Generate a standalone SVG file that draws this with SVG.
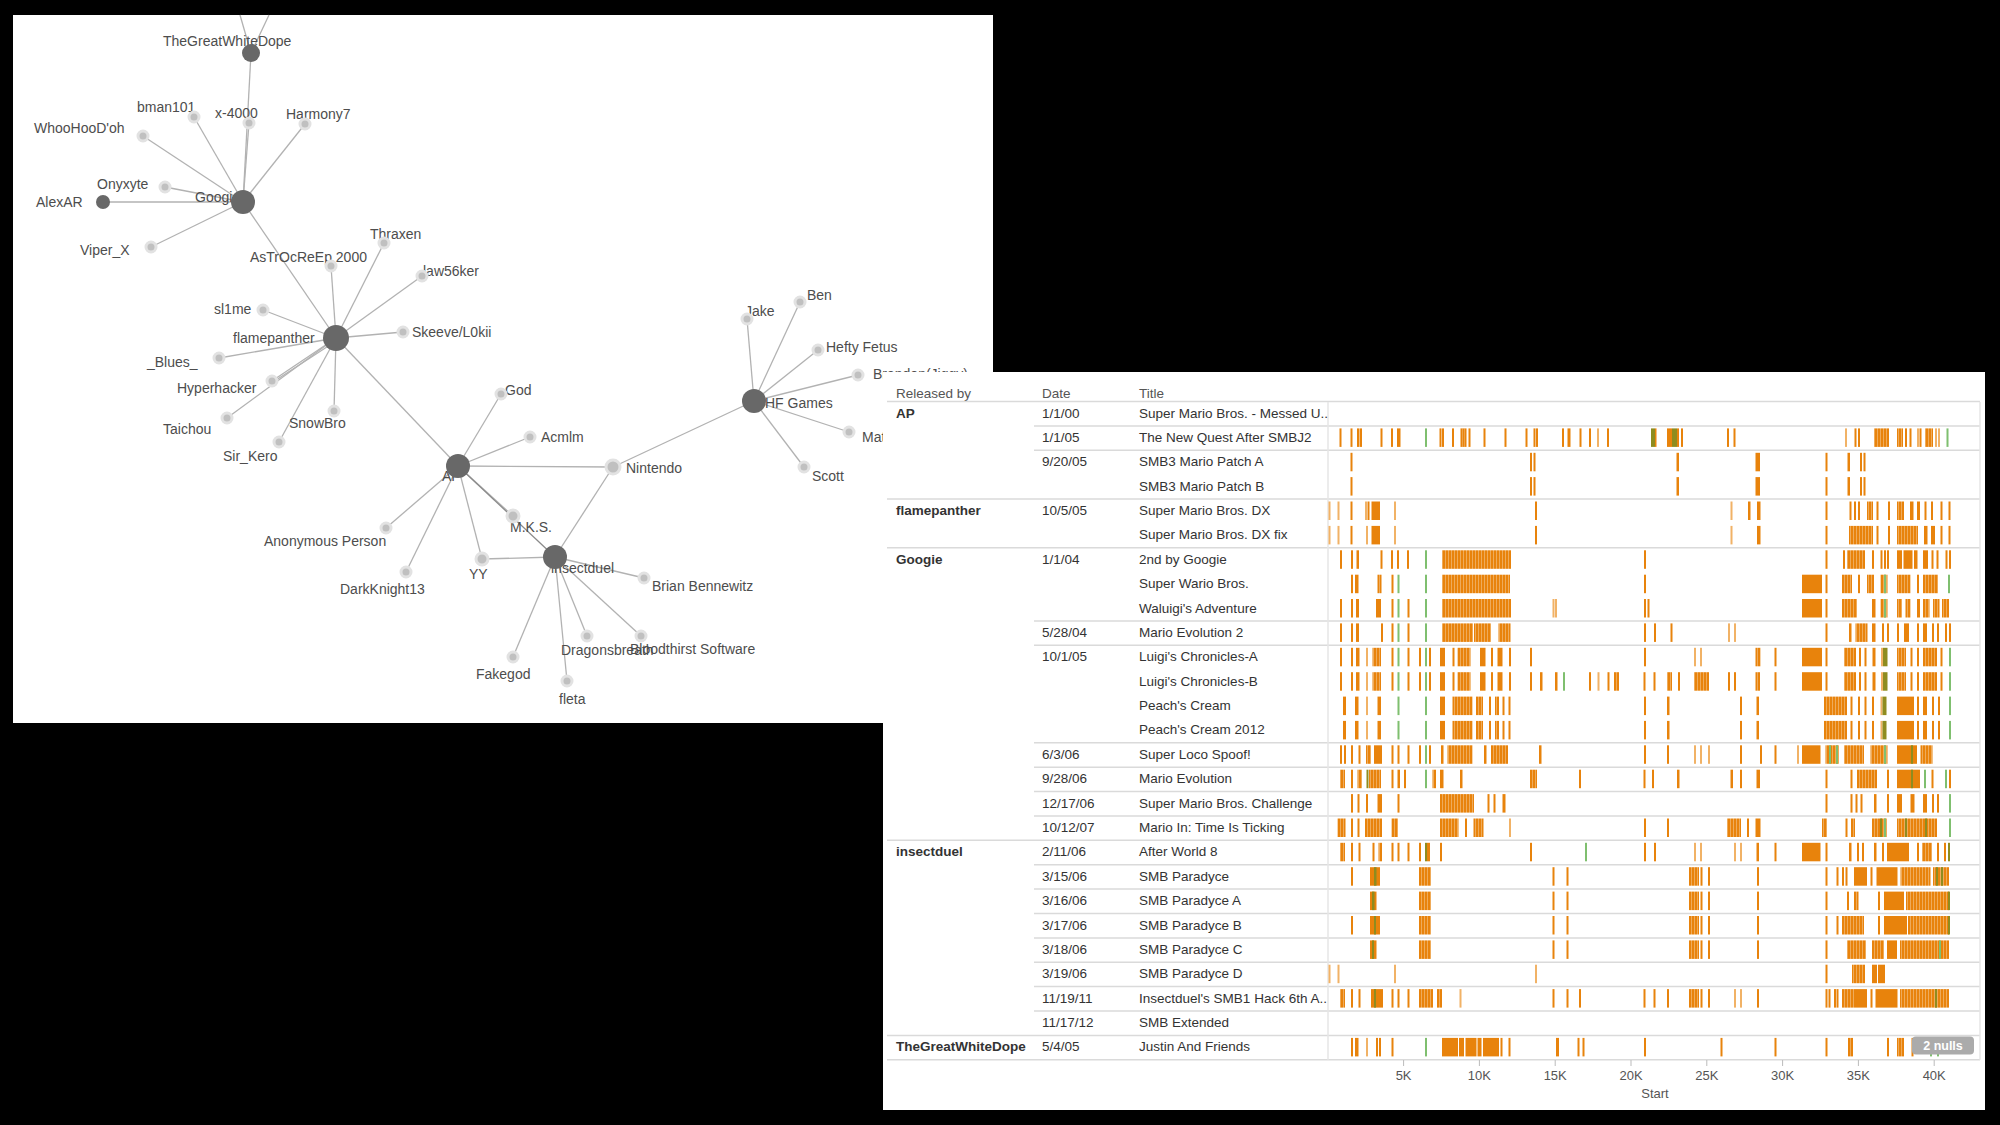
<svg xmlns="http://www.w3.org/2000/svg" width="2000" height="1125" viewBox="0 0 2000 1125">
<defs>
<style>
.lbl{font-family:"Liberation Sans",Arial,sans-serif;font-size:14px;fill:#4d4d4d}
.edge line{stroke:#b2b2b2;stroke-width:1.3}
.hub{fill:#686868}
.leaf{fill:#c0c0c0;stroke:#e2e2e2;stroke-width:3}
.t{font-family:"Liberation Sans",Arial,sans-serif;font-size:13.5px;fill:#333}
.th{font-family:"Liberation Sans",Arial,sans-serif;font-size:13.5px;fill:#555}
.tb{font-family:"Liberation Sans",Arial,sans-serif;font-size:13.5px;font-weight:bold;fill:#333}
.ax{font-family:"Liberation Sans",Arial,sans-serif;font-size:13px;fill:#555;text-anchor:middle}
.sep{stroke:#dadada;stroke-width:1.5}
.bars rect{y:0;height:18.5px;fill:#e8830c}
.bars rect.l{fill:#f1b266}
.bars rect.g{fill:#7fbf6f}
.bars rect.v{fill:#8e8c1f}
.bars rect.d{fill:url(#dn)}
</style>
<pattern id="dn" width="3" height="20" patternUnits="userSpaceOnUse"><rect width="3" height="20" fill="#f3bd7c"/><rect width="2.3" height="20" fill="#e8830c"/></pattern>
</defs>
<rect width="2000" height="1125" fill="#000"/>
<rect x="13" y="15" width="980" height="708" fill="#fff"/>

<g id="connectors" class="edge">
<line x1="251" y1="53" x2="240" y2="15"/>
<line x1="251" y1="53" x2="269" y2="15"/>
<line x1="251" y1="53" x2="243" y2="202"/>
<line x1="243" y1="202" x2="194" y2="117"/>
<line x1="243" y1="202" x2="249" y2="123"/>
<line x1="243" y1="202" x2="305" y2="124"/>
<line x1="243" y1="202" x2="143" y2="136"/>
<line x1="243" y1="202" x2="165" y2="187"/>
<line x1="243" y1="202" x2="103" y2="202"/>
<line x1="243" y1="202" x2="151" y2="247"/>
<line x1="243" y1="202" x2="336" y2="338"/>
<line x1="336" y1="338" x2="331" y2="266"/>
<line x1="336" y1="338" x2="384" y2="243"/>
<line x1="336" y1="338" x2="422" y2="276"/>
<line x1="336" y1="338" x2="263" y2="310"/>
<line x1="336" y1="338" x2="403" y2="332"/>
<line x1="336" y1="338" x2="219" y2="358"/>
<line x1="336" y1="338" x2="272" y2="381"/>
<line x1="333" y1="343" x2="270" y2="384"/>
<line x1="336" y1="338" x2="227" y2="418"/>
<line x1="336" y1="338" x2="334" y2="411"/>
<line x1="336" y1="338" x2="279" y2="442"/>
<line x1="336" y1="338" x2="458" y2="466"/>
<line x1="458" y1="466" x2="501" y2="394"/>
<line x1="458" y1="466" x2="530" y2="437"/>
<line x1="458" y1="466" x2="613" y2="467"/>
<line x1="458" y1="466" x2="513" y2="516"/>
<line x1="458" y1="466" x2="555" y2="557" style="stroke:#8a8a8a"/>
<line x1="458" y1="466" x2="386" y2="528"/>
<line x1="458" y1="466" x2="406" y2="572"/>
<line x1="458" y1="466" x2="482" y2="559"/>
<line x1="555" y1="557" x2="482" y2="559"/>
<line x1="555" y1="557" x2="613" y2="467"/>
<line x1="555" y1="557" x2="644" y2="578"/>
<line x1="555" y1="557" x2="513" y2="657"/>
<line x1="555" y1="557" x2="587" y2="636"/>
<line x1="555" y1="557" x2="641" y2="636"/>
<line x1="555" y1="557" x2="567" y2="681"/>
<line x1="613" y1="467" x2="754" y2="401"/>
<line x1="754" y1="401" x2="747" y2="319"/>
<line x1="754" y1="401" x2="800" y2="302"/>
<line x1="754" y1="401" x2="818" y2="350"/>
<line x1="754" y1="401" x2="858" y2="375"/>
<line x1="754" y1="401" x2="849" y2="432"/>
<line x1="754" y1="401" x2="804" y2="467"/>
</g>

<g id="labels">
<text class="lbl" x="163" y="46">TheGreatWhiteDope</text>
<text class="lbl" x="137" y="112">bman101</text>
<text class="lbl" x="215" y="118">x-4000</text>
<text class="lbl" x="286" y="119">Harmony7</text>
<text class="lbl" x="34" y="133">WhooHooD'oh</text>
<text class="lbl" x="97" y="189">Onyxyte</text>
<text class="lbl" x="36" y="207">AlexAR</text>
<text class="lbl" x="195" y="202">Googie</text>
<text class="lbl" x="80" y="255">Viper_X</text>
<text class="lbl" x="370" y="239">Thraxen</text>
<text class="lbl" x="250" y="262">AsTrOcReEp 2000</text>
<text class="lbl" x="423" y="276">law56ker</text>
<text class="lbl" x="214" y="314">sl1me</text>
<text class="lbl" x="233" y="343">flamepanther</text>
<text class="lbl" x="412" y="337">Skeeve/L0kii</text>
<text class="lbl" x="147" y="367">_Blues_</text>
<text class="lbl" x="177" y="393">Hyperhacker</text>
<text class="lbl" x="163" y="434">Taichou</text>
<text class="lbl" x="289" y="428">SnowBro</text>
<text class="lbl" x="223" y="461">Sir_Kero</text>
<text class="lbl" x="442" y="481">AP</text>
<text class="lbl" x="505" y="395">God</text>
<text class="lbl" x="541" y="442">Acmlm</text>
<text class="lbl" x="626" y="473">Nintendo</text>
<text class="lbl" x="510" y="532">M.K.S.</text>
<text class="lbl" x="264" y="546">Anonymous Person</text>
<text class="lbl" x="340" y="594">DarkKnight13</text>
<text class="lbl" x="469" y="579">YY</text>
<text class="lbl" x="551" y="573">insectduel</text>
<text class="lbl" x="652" y="591">Brian Bennewitz</text>
<text class="lbl" x="476" y="679">Fakegod</text>
<text class="lbl" x="561" y="655">Dragonsbreath</text>
<text class="lbl" x="630" y="654">Bloodthirst Software</text>
<text class="lbl" x="559" y="704">fleta</text>
<text class="lbl" x="765" y="408">HF Games</text>
<text class="lbl" x="745" y="316">Jake</text>
<text class="lbl" x="807" y="300">Ben</text>
<text class="lbl" x="826" y="352">Hefty Fetus</text>
<text class="lbl" x="873" y="379">Brandon(Jiggy)</text>
<text class="lbl" x="862" y="442">Matt</text>
<text class="lbl" x="812" y="481">Scott</text>
</g>

<g id="nodes">
<g id="n-tgwd"><circle class="hub" cx="251" cy="53" r="9"/></g>
<g id="n-googie"><circle class="hub" cx="243" cy="202" r="12"/></g>
<g id="n-alexar"><circle class="hub" cx="103" cy="202" r="7"/></g>
<g id="n-flamepanther"><circle class="hub" cx="336" cy="338" r="13"/></g>
<g id="n-ap"><circle class="hub" cx="458" cy="466" r="12"/></g>
<g id="n-insectduel"><circle class="hub" cx="555" cy="557" r="12"/></g>
<g id="n-hfgames"><circle class="hub" cx="754" cy="401" r="12"/></g>
<g id="n-nintendo"><circle class="leaf" cx="613" cy="467" r="7"/></g>
<g id="n-mks"><circle class="leaf" cx="513" cy="516" r="6"/></g>
<g id="n-yy"><circle class="leaf" cx="482" cy="559" r="6"/></g>
<g id="n-bman101"><circle class="leaf" cx="194" cy="117" r="5"/></g>
<g id="n-x4000"><circle class="leaf" cx="249" cy="123" r="5"/></g>
<g id="n-harmony7"><circle class="leaf" cx="305" cy="124" r="5"/></g>
<g id="n-whoohoo"><circle class="leaf" cx="143" cy="136" r="5"/></g>
<g id="n-onyxyte"><circle class="leaf" cx="165" cy="187" r="5"/></g>
<g id="n-viperx"><circle class="leaf" cx="151" cy="247" r="5"/></g>
<g id="n-thraxen"><circle class="leaf" cx="384" cy="243" r="5"/></g>
<g id="n-astr"><circle class="leaf" cx="331" cy="266" r="5"/></g>
<g id="n-law56ker"><circle class="leaf" cx="422" cy="276" r="5"/></g>
<g id="n-sl1me"><circle class="leaf" cx="263" cy="310" r="5"/></g>
<g id="n-skeeve"><circle class="leaf" cx="403" cy="332" r="5"/></g>
<g id="n-blues"><circle class="leaf" cx="219" cy="358" r="5"/></g>
<g id="n-hyperhacker"><circle class="leaf" cx="272" cy="381" r="5"/></g>
<g id="n-taichou"><circle class="leaf" cx="227" cy="418" r="5"/></g>
<g id="n-snowbro"><circle class="leaf" cx="334" cy="411" r="5"/></g>
<g id="n-sirkero"><circle class="leaf" cx="279" cy="442" r="5"/></g>
<g id="n-god"><circle class="leaf" cx="501" cy="394" r="5"/></g>
<g id="n-acmlm"><circle class="leaf" cx="530" cy="437" r="5"/></g>
<g id="n-anon"><circle class="leaf" cx="386" cy="528" r="5"/></g>
<g id="n-darkknight"><circle class="leaf" cx="406" cy="572" r="5"/></g>
<g id="n-brian"><circle class="leaf" cx="644" cy="578" r="5"/></g>
<g id="n-fakegod"><circle class="leaf" cx="513" cy="657" r="5"/></g>
<g id="n-dragon"><circle class="leaf" cx="587" cy="636" r="5"/></g>
<g id="n-blood"><circle class="leaf" cx="641" cy="636" r="5"/></g>
<g id="n-fleta"><circle class="leaf" cx="567" cy="681" r="5"/></g>
<g id="n-jake"><circle class="leaf" cx="747" cy="319" r="5"/></g>
<g id="n-ben"><circle class="leaf" cx="800" cy="302" r="5"/></g>
<g id="n-hefty"><circle class="leaf" cx="818" cy="350" r="5"/></g>
<g id="n-brandon"><circle class="leaf" cx="858" cy="375" r="5"/></g>
<g id="n-mat"><circle class="leaf" cx="849" cy="432" r="5"/></g>
<g id="n-scott"><circle class="leaf" cx="804" cy="467" r="5"/></g>
</g>

<g id="table">
<rect x="883" y="372" width="1102" height="738" fill="#fff"/>
<text class="th" x="896" y="398">Released by</text>
<text class="th" x="1042" y="398">Date</text>
<text class="th" x="1139" y="398">Title</text>
<g class="sep">
<line x1="887" y1="401.5" x2="1980" y2="401.5"/>
<line x1="1034" y1="425.9" x2="1980" y2="425.9"/>
<line x1="1034" y1="450.3" x2="1980" y2="450.3"/>
<line x1="887" y1="499" x2="1980" y2="499"/>
<line x1="887" y1="547.8" x2="1980" y2="547.8"/>
<line x1="1034" y1="620.9" x2="1980" y2="620.9"/>
<line x1="1034" y1="645.3" x2="1980" y2="645.3"/>
<line x1="1034" y1="742.8" x2="1980" y2="742.8"/>
<line x1="1034" y1="767.2" x2="1980" y2="767.2"/>
<line x1="1034" y1="791.6" x2="1980" y2="791.6"/>
<line x1="1034" y1="816" x2="1980" y2="816"/>
<line x1="887" y1="840.3" x2="1980" y2="840.3"/>
<line x1="1034" y1="864.7" x2="1980" y2="864.7"/>
<line x1="1034" y1="889.1" x2="1980" y2="889.1"/>
<line x1="1034" y1="913.5" x2="1980" y2="913.5"/>
<line x1="1034" y1="937.9" x2="1980" y2="937.9"/>
<line x1="1034" y1="962.2" x2="1980" y2="962.2"/>
<line x1="1034" y1="986.6" x2="1980" y2="986.6"/>
<line x1="1034" y1="1011" x2="1980" y2="1011"/>
<line x1="887" y1="1035.4" x2="1980" y2="1035.4"/>
<line x1="887" y1="1059.8" x2="1980" y2="1059.8"/>
<line x1="1328" y1="402" x2="1328" y2="1059.8" style="stroke:#e6e6e6"/>
<line x1="1980" y1="402" x2="1980" y2="1059.8" style="stroke:#e6e6e6"/>
</g>
<text class="tb" x="896" y="417.5">AP</text>
<text class="tb" x="896" y="515">flamepanther</text>
<text class="tb" x="896" y="563.8">Googie</text>
<text class="tb" x="896" y="856.3">insectduel</text>
<text class="tb" x="896" y="1051.4">TheGreatWhiteDope</text>
<g class="t">
<text x="1042" y="417.5">1/1/00</text><text x="1139" y="417.5">Super Mario Bros. - Messed U..</text>
<text x="1042" y="441.9">1/1/05</text><text x="1139" y="441.9">The New Quest After SMBJ2</text>
<text x="1042" y="466.3">9/20/05</text><text x="1139" y="466.3">SMB3 Mario Patch A</text>
<text x="1139" y="490.6">SMB3 Mario Patch B</text>
<text x="1042" y="515">10/5/05</text><text x="1139" y="515">Super Mario Bros. DX</text>
<text x="1139" y="539.4">Super Mario Bros. DX fix</text>
<text x="1042" y="563.8">1/1/04</text><text x="1139" y="563.8">2nd by Googie</text>
<text x="1139" y="588.2">Super Wario Bros.</text>
<text x="1139" y="612.5">Waluigi's Adventure</text>
<text x="1042" y="636.9">5/28/04</text><text x="1139" y="636.9">Mario Evolution 2</text>
<text x="1042" y="661.3">10/1/05</text><text x="1139" y="661.3">Luigi's Chronicles-A</text>
<text x="1139" y="685.7">Luigi's Chronicles-B</text>
<text x="1139" y="710.1">Peach's Cream</text>
<text x="1139" y="734.4">Peach's Cream 2012</text>
<text x="1042" y="758.8">6/3/06</text><text x="1139" y="758.8">Super Loco Spoof!</text>
<text x="1042" y="783.2">9/28/06</text><text x="1139" y="783.2">Mario Evolution</text>
<text x="1042" y="807.6">12/17/06</text><text x="1139" y="807.6">Super Mario Bros. Challenge</text>
<text x="1042" y="832">10/12/07</text><text x="1139" y="832">Mario In: Time Is Ticking</text>
<text x="1042" y="856.3">2/11/06</text><text x="1139" y="856.3">After World 8</text>
<text x="1042" y="880.7">3/15/06</text><text x="1139" y="880.7">SMB Paradyce</text>
<text x="1042" y="905.1">3/16/06</text><text x="1139" y="905.1">SMB Paradyce A</text>
<text x="1042" y="929.5">3/17/06</text><text x="1139" y="929.5">SMB Paradyce B</text>
<text x="1042" y="953.9">3/18/06</text><text x="1139" y="953.9">SMB Paradyce C</text>
<text x="1042" y="978.2">3/19/06</text><text x="1139" y="978.2">SMB Paradyce D</text>
<text x="1042" y="1002.6">11/19/11</text><text x="1139" y="1002.6">Insectduel's SMB1 Hack 6th A..</text>
<text x="1042" y="1027">11/17/12</text><text x="1139" y="1027">SMB Extended</text>
<text x="1042" y="1051.4">5/4/05</text><text x="1139" y="1051.4">Justin And Friends</text>
</g>

<g class="bars" transform="translate(0,428.4)"><rect x="1339.5" width="2"/><rect x="1350.5" width="2"/><rect x="1357" width="2"/><rect x="1359.5" width="2.5"/><rect x="1380.5" width="2"/><rect x="1391" width="2"/><rect x="1397" width="3.5"/><rect class="g" x="1425" width="2"/><rect x="1439.5" width="2"/><rect x="1442" width="2"/><rect x="1452" width="2"/><rect x="1460.5" width="2"/><rect x="1462.5" width="2"/><rect x="1464.5" width="2"/><rect x="1468.5" width="2"/><rect x="1483.5" width="2"/><rect x="1504.5" width="2"/><rect x="1525.5" width="2"/><rect x="1533.5" width="2"/><rect x="1536" width="2"/><rect x="1562" width="2"/><rect x="1567.5" width="3"/><rect x="1579.5" width="2"/><rect x="1589" width="2"/><rect class="l" x="1597" width="2"/><rect x="1607" width="2"/><rect class="v" x="1651" width="4"/><rect x="1655" width="1.5"/><rect x="1667" width="5"/><rect class="v" x="1672" width="5"/><rect x="1677" width="2"/><rect x="1681" width="2"/><rect x="1727" width="2"/><rect x="1733.5" width="2"/><rect class="l" x="1845" width="2"/><rect x="1854.5" width="2"/><rect x="1858" width="2"/><rect class="d" x="1874" width="15"/><rect class="d" x="1897" width="6"/><rect x="1905" width="2"/><rect x="1909.5" width="2"/><rect class="l" x="1917" width="2"/><rect x="1919.5" width="2"/><rect class="d" x="1925" width="8"/><rect class="l" x="1935" width="2"/><rect class="l" x="1938" width="2"/><rect class="g" x="1946.5" width="2"/></g>

<g class="bars" transform="translate(0,452.8)"><rect x="1350.5" width="2"/><rect x="1530" width="2"/><rect x="1533.5" width="2"/><rect x="1676.5" width="2.5"/><rect x="1755.5" width="4.5"/><rect x="1825.5" width="2"/><rect x="1847.5" width="2.5"/><rect x="1860" width="2"/><rect x="1863.5" width="2"/></g>
<g class="bars" transform="translate(0,477.1)"><rect x="1350.5" width="2"/><rect x="1530" width="2"/><rect x="1533.5" width="2"/><rect x="1676.5" width="2.5"/><rect x="1755.5" width="4.5"/><rect x="1825.5" width="2"/><rect x="1847.5" width="2.5"/><rect x="1860" width="2"/><rect x="1863.5" width="2"/></g>

<g class="bars" transform="translate(0,501.5)"><rect class="l" x="1328.5" width="2"/><rect class="l" x="1337.5" width="2"/><rect x="1350.5" width="2"/><rect class="l" x="1365" width="2"/><rect x="1367.5" width="2"/><rect x="1371.5" width="8.5"/><rect class="l" x="1394" width="2"/><rect x="1535" width="2"/><rect class="l" x="1730.5" width="2"/><rect x="1748" width="2.5"/><rect x="1757" width="3.5"/><rect x="1825.5" width="2"/><rect x="1849.5" width="2"/><rect x="1854" width="2"/><rect x="1858" width="2"/><rect class="d" x="1867" width="6"/><rect x="1876.5" width="2"/><rect x="1888" width="2"/><rect class="d" x="1897" width="7"/><rect x="1910" width="3.5"/><rect x="1917" width="3"/><rect x="1924.5" width="2"/><rect x="1931" width="2"/><rect x="1940.5" width="2"/><rect x="1948.5" width="2"/></g>
<g class="bars" transform="translate(0,525.9)"><rect class="l" x="1328.5" width="2"/><rect class="l" x="1337.5" width="2"/><rect x="1350.5" width="2"/><rect class="l" x="1366" width="2"/><rect x="1371.5" width="8.5"/><rect class="l" x="1394" width="2"/><rect x="1535" width="2"/><rect class="l" x="1730.5" width="2"/><rect x="1757" width="3.5"/><rect x="1825.5" width="2"/><rect class="d" x="1849" width="24"/><rect x="1876.5" width="2"/><rect x="1888" width="2"/><rect class="d" x="1897" width="21"/><rect x="1924" width="3.5"/><rect x="1931" width="4"/><rect x="1940.5" width="2"/><rect x="1948.5" width="2"/></g>

<g class="bars" transform="translate(0,550.3)"><rect x="1340" width="2"/><rect x="1351" width="2"/><rect x="1356.5" width="2.5"/><rect x="1380.5" width="2"/><rect x="1391" width="2"/><rect x="1397" width="2"/><rect x="1407" width="2"/><rect class="g" x="1425" width="2"/><rect class="d" x="1442" width="69"/><rect x="1644" width="2"/><rect x="1825.5" width="2"/><rect x="1843" width="2"/><rect class="d" x="1847" width="18"/><rect x="1872" width="2"/><rect x="1880.5" width="2"/><rect x="1884" width="2"/><rect x="1887" width="2"/><rect x="1897" width="5"/><rect x="1903.5" width="9"/><rect x="1914" width="3.5"/><rect x="1923" width="5"/><rect x="1931.5" width="2"/><rect x="1936.5" width="2"/><rect x="1945.5" width="2"/><rect x="1949" width="2"/></g>
<g class="bars" transform="translate(0,574.7)"><rect x="1351" width="2"/><rect x="1355" width="3.5"/><rect class="d" x="1377.5" width="4"/><rect x="1391.5" width="2"/><rect class="g" x="1397.5" width="2"/><rect class="g" x="1425" width="2"/><rect class="d" x="1442" width="68"/><rect x="1644" width="2"/><rect x="1802" width="20"/><rect x="1825.5" width="2"/><rect class="d" x="1842" width="10"/><rect x="1858" width="2"/><rect class="d" x="1867" width="7"/><rect class="d" x="1880.5" width="7"/><rect class="g" x="1884" width="2"/><rect class="d" x="1897" width="13.5"/><rect x="1917" width="2"/><rect class="d" x="1923" width="15"/><rect class="g" x="1948" width="2"/></g>
<g class="bars" transform="translate(0,599)"><rect x="1340" width="2"/><rect x="1351" width="2"/><rect x="1356" width="3"/><rect x="1376" width="5"/><rect x="1391.5" width="2"/><rect class="g" x="1397.5" width="2"/><rect x="1407.5" width="2"/><rect class="g" x="1425" width="2"/><rect class="d" x="1442" width="69"/><rect class="l" x="1552.5" width="2"/><rect class="l" x="1555" width="2"/><rect x="1644" width="2"/><rect x="1647.5" width="2"/><rect x="1802" width="20"/><rect x="1825.5" width="2"/><rect class="d" x="1842" width="15"/><rect x="1872" width="3.5"/><rect class="d" x="1880.5" width="7"/><rect class="g" x="1884" width="2"/><rect class="d" x="1897" width="5"/><rect class="d" x="1905.5" width="5"/><rect x="1917" width="3"/><rect class="d" x="1923" width="6.5"/><rect class="d" x="1933" width="6.5"/><rect class="d" x="1942" width="7"/></g>
<g class="bars" transform="translate(0,623.4)"><rect x="1340" width="2"/><rect x="1351" width="2"/><rect x="1356" width="3"/><rect x="1381" width="2"/><rect x="1391.5" width="2"/><rect class="g" x="1397.5" width="2"/><rect x="1407.5" width="2"/><rect class="g" x="1425" width="2"/><rect class="d" x="1442" width="31"/><rect class="d" x="1474" width="17"/><rect class="d" x="1498.5" width="12"/><rect x="1644" width="2"/><rect x="1654" width="2"/><rect x="1670.5" width="2"/><rect class="l" x="1728" width="2"/><rect class="l" x="1734" width="2"/><rect x="1825.5" width="2"/><rect x="1849" width="2.5"/><rect class="d" x="1855.5" width="12"/><rect x="1872" width="3.5"/><rect x="1882" width="2"/><rect x="1887" width="2"/><rect x="1897" width="2"/><rect x="1904" width="5"/><rect x="1917" width="2"/><rect x="1923" width="4"/><rect x="1932" width="2"/><rect x="1937" width="2"/><rect x="1945" width="2"/><rect x="1949" width="2"/></g>
<g class="bars" transform="translate(0,647.8)"><rect x="1340" width="2"/><rect x="1351" width="2"/><rect x="1356" width="3.5"/><rect class="l" x="1366" width="2"/><rect class="d" x="1372.5" width="8.5"/><rect x="1391.5" width="2"/><rect class="g" x="1397.5" width="2"/><rect x="1407.5" width="2"/><rect x="1419" width="2"/><rect class="g" x="1425" width="2"/><rect x="1429" width="2"/><rect x="1440" width="5"/><rect x="1452.5" width="2"/><rect class="d" x="1457.5" width="13"/><rect x="1480" width="5.5"/><rect x="1491" width="2"/><rect x="1497.5" width="5"/><rect x="1509" width="2"/><rect x="1530" width="2"/><rect x="1644" width="2"/><rect class="l" x="1694" width="2"/><rect class="l" x="1700" width="2"/><rect class="d" x="1755.5" width="5"/><rect x="1774.5" width="2"/><rect x="1802" width="20"/><rect x="1825.5" width="2"/><rect class="d" x="1844" width="12"/><rect x="1859" width="2"/><rect x="1864.5" width="2"/><rect x="1872.5" width="3"/><rect class="l" x="1881" width="2"/><rect class="v" x="1883" width="4.5"/><rect class="d" x="1897" width="9"/><rect x="1910.5" width="2"/><rect x="1917" width="2"/><rect class="d" x="1923" width="14"/><rect x="1940.5" width="2"/><rect class="g" x="1949" width="2"/></g>
<g class="bars" transform="translate(0,672.2)"><rect x="1340" width="2"/><rect x="1351" width="2"/><rect x="1356" width="3.5"/><rect class="l" x="1366" width="2"/><rect class="d" x="1372.5" width="8.5"/><rect x="1391.5" width="2"/><rect class="g" x="1397.5" width="2"/><rect x="1407.5" width="2"/><rect x="1419" width="2"/><rect class="g" x="1425" width="2"/><rect x="1429" width="2"/><rect x="1440" width="5"/><rect x="1452.5" width="2"/><rect class="d" x="1457.5" width="13"/><rect x="1480" width="5.5"/><rect x="1491" width="2"/><rect x="1497.5" width="5"/><rect x="1509" width="2"/><rect x="1530" width="2"/><rect x="1540" width="2.5"/><rect x="1555" width="2.5"/><rect class="g" x="1563" width="2"/><rect x="1589" width="2"/><rect class="l" x="1597.5" width="2"/><rect x="1607.5" width="2"/><rect class="d" x="1614" width="5"/><rect x="1643.5" width="2"/><rect x="1653.5" width="2"/><rect class="d" x="1667" width="5"/><rect x="1678" width="2"/><rect class="d" x="1694" width="15"/><rect x="1728" width="2"/><rect x="1734" width="2"/><rect class="d" x="1755.5" width="4.5"/><rect x="1774.5" width="2"/><rect x="1802" width="20"/><rect x="1825.5" width="2"/><rect class="d" x="1844" width="12"/><rect x="1859" width="2"/><rect x="1864.5" width="2"/><rect x="1872.5" width="3"/><rect class="l" x="1881" width="2"/><rect class="v" x="1883" width="4.5"/><rect class="d" x="1897" width="9"/><rect x="1910.5" width="2"/><rect x="1917" width="2"/><rect class="d" x="1923" width="14"/><rect x="1940.5" width="2"/><rect class="g" x="1949" width="2"/></g>
<g class="bars" transform="translate(0,696.6)"><rect x="1343" width="3"/><rect x="1355" width="3.5"/><rect class="l" x="1366" width="2"/><rect x="1377.5" width="3.5"/><rect class="g" x="1397.5" width="2"/><rect class="g" x="1425" width="2"/><rect x="1440" width="5"/><rect class="d" x="1452.5" width="20"/><rect class="d" x="1476" width="7"/><rect x="1489" width="2"/><rect class="d" x="1495" width="4"/><rect x="1502.5" width="2"/><rect x="1508.5" width="2"/><rect x="1644" width="2"/><rect x="1667" width="2.5"/><rect x="1740" width="2"/><rect x="1756.5" width="2.5"/><rect class="d" x="1824" width="23"/><rect x="1850.5" width="2"/><rect x="1858" width="2"/><rect x="1864.5" width="2"/><rect x="1872" width="2"/><rect class="l" x="1880.5" width="2"/><rect class="v" x="1882.5" width="4"/><rect x="1897" width="17"/><rect x="1917" width="2"/><rect x="1923" width="4"/><rect x="1932" width="2"/><rect x="1938" width="2"/><rect class="g" x="1949" width="2"/></g>
<g class="bars" transform="translate(0,720.9)"><rect x="1343" width="3"/><rect x="1355" width="3.5"/><rect class="l" x="1366" width="2"/><rect x="1377.5" width="3.5"/><rect class="g" x="1397.5" width="2"/><rect class="g" x="1425" width="2"/><rect x="1440" width="5"/><rect class="d" x="1452.5" width="20"/><rect class="d" x="1476" width="7"/><rect x="1489" width="2"/><rect class="d" x="1495" width="4"/><rect x="1502.5" width="2"/><rect x="1508.5" width="2"/><rect x="1644" width="2"/><rect x="1667" width="2.5"/><rect x="1740" width="2"/><rect x="1756.5" width="2.5"/><rect class="d" x="1824" width="23"/><rect x="1850.5" width="2"/><rect x="1858" width="2"/><rect x="1864.5" width="2"/><rect x="1872" width="2"/><rect class="l" x="1880.5" width="2"/><rect class="v" x="1882.5" width="4"/><rect x="1897" width="17"/><rect x="1917" width="2"/><rect x="1923" width="4"/><rect x="1932" width="2"/><rect x="1938" width="2"/><rect class="g" x="1949" width="2"/></g>
<g class="bars" transform="translate(0,745.3)"><rect x="1340" width="2"/><rect x="1344" width="2"/><rect x="1351" width="2"/><rect x="1358.5" width="2"/><rect class="d" x="1366" width="5"/><rect x="1374" width="8"/><rect x="1391.5" width="2"/><rect x="1397.5" width="2"/><rect x="1407.5" width="2"/><rect x="1419" width="2"/><rect class="g" x="1425" width="2"/><rect x="1429" width="2"/><rect x="1441" width="2.5"/><rect class="d" x="1447.5" width="25"/><rect x="1484" width="2.5"/><rect class="d" x="1491" width="17"/><rect x="1539" width="2.5"/><rect x="1644" width="2"/><rect x="1667" width="2"/><rect class="l" x="1694" width="2"/><rect class="l" x="1700" width="2"/><rect class="l" x="1708" width="2"/><rect x="1740" width="2"/><rect x="1760" width="2"/><rect x="1774.5" width="2"/><rect class="l" x="1797" width="2"/><rect x="1802" width="18.5"/><rect class="d" x="1825.5" width="13.5"/><rect class="g" x="1829" width="2"/><rect class="g" x="1836" width="2"/><rect class="d" x="1844" width="20"/><rect class="d" x="1870.5" width="17"/><rect class="g" x="1884" width="2"/><rect x="1897" width="20"/><rect class="v" x="1911" width="2"/><rect class="d" x="1920.5" width="12"/></g>
<g class="bars" transform="translate(0,769.7)"><rect class="d" x="1340" width="5"/><rect x="1351" width="2"/><rect class="d" x="1357.5" width="4.5"/><rect class="v" x="1366.5" width="2"/><rect class="d" x="1369" width="12"/><rect x="1391.5" width="2"/><rect x="1397.5" width="2.5"/><rect x="1404" width="2"/><rect class="g" x="1425" width="2"/><rect class="d" x="1432.5" width="3.5"/><rect x="1440" width="3.5"/><rect x="1460" width="2.5"/><rect class="d" x="1530" width="7"/><rect x="1579" width="2"/><rect x="1643.5" width="2"/><rect x="1652" width="2"/><rect x="1677" width="2.5"/><rect x="1730.5" width="2.5"/><rect x="1740" width="2"/><rect x="1756.5" width="3.5"/><rect x="1825.5" width="2"/><rect x="1850.5" width="2"/><rect class="d" x="1857" width="20"/><rect x="1887" width="2"/><rect x="1897" width="23"/><rect class="v" x="1911" width="2"/><rect class="g" x="1924" width="2"/><rect x="1931.5" width="2"/><rect class="g" x="1945" width="2"/><rect x="1949" width="2"/></g>
<g class="bars" transform="translate(0,794.1)"><rect x="1351" width="2"/><rect x="1357.5" width="2"/><rect x="1366" width="2"/><rect x="1377.5" width="4.5"/><rect x="1397.5" width="2"/><rect class="d" x="1440" width="34"/><rect x="1487.5" width="2"/><rect x="1493.5" width="2"/><rect x="1502.5" width="3"/><rect x="1825.5" width="2"/><rect x="1850.5" width="2"/><rect x="1855.5" width="2"/><rect x="1860.5" width="2"/><rect x="1874" width="2.5"/><rect x="1887" width="2"/><rect x="1897" width="5"/><rect x="1910.5" width="4"/><rect x="1923" width="4"/><rect x="1932" width="2"/><rect x="1937" width="2"/><rect class="g" x="1949" width="2"/></g>
<g class="bars" transform="translate(0,818.5)"><rect class="d" x="1337.5" width="8"/><rect x="1351" width="2"/><rect x="1357.5" width="2"/><rect class="d" x="1365" width="17"/><rect class="d" x="1391.5" width="6.5"/><rect class="d" x="1440" width="18.5"/><rect x="1465" width="2"/><rect class="d" x="1473.5" width="10"/><rect class="l" x="1509" width="2"/><rect x="1644" width="2"/><rect x="1667" width="2"/><rect class="d" x="1727" width="14"/><rect x="1747" width="2"/><rect x="1755.5" width="5"/><rect class="d" x="1822" width="5"/><rect x="1845.5" width="2"/><rect class="d" x="1851" width="4"/><rect class="d" x="1872" width="15"/><rect class="v" x="1880" width="2"/><rect class="g" x="1884" width="2"/><rect class="d" x="1897" width="40"/><rect class="v" x="1905" width="2"/><rect class="v" x="1925" width="2"/><rect class="g" x="1949" width="2"/></g>
<g class="bars" transform="translate(0,842.8)"><rect class="d" x="1340" width="5"/><rect x="1351" width="2"/><rect x="1358.5" width="2"/><rect x="1372.5" width="2"/><rect class="d" x="1378.5" width="3.5"/><rect x="1391.5" width="2"/><rect x="1397.5" width="2"/><rect x="1407.5" width="2"/><rect x="1419" width="2"/><rect class="v" x="1425" width="2"/><rect x="1427" width="3"/><rect x="1440" width="2"/><rect x="1530" width="2"/><rect class="g" x="1585" width="2"/><rect x="1644" width="2"/><rect x="1654" width="2"/><rect class="l" x="1694" width="2"/><rect class="l" x="1700" width="2"/><rect class="l" x="1734" width="2"/><rect class="l" x="1740" width="2"/><rect x="1756.5" width="2.5"/><rect x="1774.5" width="2"/><rect x="1802" width="18.5"/><rect x="1825.5" width="2"/><rect x="1849" width="2.5"/><rect x="1857" width="2"/><rect x="1862" width="2"/><rect x="1874" width="2.5"/><rect x="1882" width="2"/><rect x="1887" width="22"/><rect x="1917" width="2"/><rect class="d" x="1922" width="10"/><rect x="1937" width="2"/><rect x="1944" width="2"/><rect class="v" x="1948" width="2"/></g>
<g class="bars" transform="translate(0,867.2)"><rect x="1351" width="2"/><rect x="1370" width="10"/><rect class="v" x="1374" width="2.5"/><rect class="d" x="1419" width="12"/><rect x="1552.5" width="2"/><rect x="1566.5" width="2"/><rect class="d" x="1689" width="10"/><rect x="1700.5" width="2"/><rect x="1708" width="2"/><rect x="1757" width="2"/><rect x="1825.5" width="2"/><rect x="1836.5" width="2"/><rect x="1842" width="2"/><rect x="1845.5" width="2"/><rect x="1854" width="13"/><rect x="1870.5" width="2"/><rect x="1876.5" width="21"/><rect class="d" x="1900.5" width="30"/><rect class="d" x="1933" width="16"/><rect class="v" x="1936" width="2"/><rect class="v" x="1941" width="2"/></g>
<g class="bars" transform="translate(0,891.6)"><rect x="1370" width="6.5"/><rect class="v" x="1372" width="2.5"/><rect class="d" x="1419" width="12"/><rect x="1552.5" width="2"/><rect x="1566.5" width="2"/><rect class="d" x="1689" width="10"/><rect x="1700.5" width="2"/><rect x="1708" width="2"/><rect x="1757" width="2"/><rect x="1825.5" width="2"/><rect x="1847" width="2"/><rect class="d" x="1854" width="4.5"/><rect x="1878" width="2"/><rect x="1884" width="20"/><rect class="d" x="1906" width="43"/><rect class="v" x="1948" width="2"/></g>
<g class="bars" transform="translate(0,916)"><rect x="1351" width="2"/><rect x="1370" width="10"/><rect class="v" x="1374" width="2"/><rect class="d" x="1419" width="12"/><rect x="1552.5" width="2"/><rect x="1566.5" width="2"/><rect class="d" x="1689" width="10"/><rect x="1700.5" width="2"/><rect x="1708" width="2"/><rect x="1757" width="2"/><rect x="1825.5" width="2"/><rect x="1836.5" width="2"/><rect class="d" x="1842" width="22"/><rect x="1878" width="2"/><rect x="1884" width="23"/><rect class="d" x="1908" width="41"/><rect class="v" x="1948" width="2"/></g>
<g class="bars" transform="translate(0,940.4)"><rect x="1370" width="6.5"/><rect class="v" x="1372" width="2"/><rect class="d" x="1419" width="12"/><rect x="1552.5" width="2"/><rect x="1566.5" width="2"/><rect class="d" x="1689" width="10"/><rect x="1700.5" width="2"/><rect x="1708" width="2"/><rect x="1757" width="2"/><rect x="1825.5" width="2"/><rect class="d" x="1847" width="19"/><rect class="d" x="1872" width="12"/><rect x="1887" width="10"/><rect class="d" x="1900" width="49"/><rect class="g" x="1939" width="2"/></g>
<g class="bars" transform="translate(0,964.7)"><rect class="l" x="1328.5" width="2"/><rect class="l" x="1337.5" width="2"/><rect class="l" x="1394" width="2"/><rect class="l" x="1535" width="2"/><rect x="1825.5" width="2"/><rect class="d" x="1852" width="13"/><rect x="1872" width="5"/><rect x="1878" width="7"/></g>
<g class="bars" transform="translate(0,989.1)"><rect class="d" x="1340" width="5"/><rect x="1351" width="2"/><rect x="1358.5" width="2"/><rect x="1371" width="12"/><rect class="v" x="1374" width="2"/><rect x="1391.5" width="2"/><rect x="1397.5" width="2"/><rect x="1407.5" width="2"/><rect class="d" x="1419" width="14"/><rect class="d" x="1437" width="5"/><rect class="l" x="1459.5" width="2"/><rect x="1552.5" width="2"/><rect x="1566.5" width="2"/><rect x="1579" width="2"/><rect x="1643.5" width="2"/><rect x="1653.5" width="2"/><rect x="1667" width="2"/><rect class="d" x="1689" width="10"/><rect x="1700.5" width="2"/><rect x="1708" width="2"/><rect class="l" x="1734" width="2"/><rect class="l" x="1740" width="2"/><rect x="1757" width="2"/><rect x="1825.5" width="2"/><rect x="1828.5" width="2"/><rect x="1834" width="2"/><rect x="1836.5" width="2"/><rect class="d" x="1842" width="12"/><rect x="1854" width="13"/><rect x="1870.5" width="2"/><rect x="1875.5" width="22"/><rect class="d" x="1900" width="49"/><rect class="v" x="1935" width="2"/></g>
<g class="bars" transform="translate(0,1037.9)"><rect x="1351" width="2"/><rect x="1355" width="3.5"/><rect class="l" x="1366" width="2"/><rect x="1376" width="2"/><rect x="1379" width="2"/><rect x="1391.5" width="2"/><rect class="g" x="1425" width="2"/><rect x="1442" width="16"/><rect x="1459" width="5"/><rect x="1465.5" width="11"/><rect x="1477.5" width="4"/><rect x="1483" width="16"/><rect x="1500.5" width="2"/><rect x="1508.5" width="2"/><rect x="1556" width="3"/><rect x="1577.5" width="2"/><rect x="1582.5" width="2"/><rect x="1644" width="2"/><rect x="1720.5" width="2"/><rect x="1774.5" width="2"/><rect x="1825.5" width="2"/><rect class="d" x="1848" width="5"/><rect x="1887" width="2"/><rect class="d" x="1897" width="7"/><rect x="1911.5" width="2"/><rect class="g" x="1930" width="2"/><rect class="g" x="1937" width="2"/></g>

<rect x="1912" y="1036.5" width="62" height="18" rx="4" fill="#ababab"/>
<text x="1943" y="1050" text-anchor="middle" style="font-family:'Liberation Sans',Arial,sans-serif;font-size:12.5px;font-weight:bold;fill:#fff">2 nulls</text>

<g stroke="#bbb" stroke-width="1">
<line x1="1403.6" y1="1060" x2="1403.6" y2="1066"/><line x1="1479.4" y1="1060" x2="1479.4" y2="1066"/><line x1="1555.2" y1="1060" x2="1555.2" y2="1066"/><line x1="1631" y1="1060" x2="1631" y2="1066"/><line x1="1706.8" y1="1060" x2="1706.8" y2="1066"/><line x1="1782.6" y1="1060" x2="1782.6" y2="1066"/><line x1="1858.4" y1="1060" x2="1858.4" y2="1066"/><line x1="1934.2" y1="1060" x2="1934.2" y2="1066"/>
</g>
<text class="ax" x="1403.6" y="1080">5K</text><text class="ax" x="1479.4" y="1080">10K</text><text class="ax" x="1555.2" y="1080">15K</text><text class="ax" x="1631" y="1080">20K</text><text class="ax" x="1706.8" y="1080">25K</text><text class="ax" x="1782.6" y="1080">30K</text><text class="ax" x="1858.4" y="1080">35K</text><text class="ax" x="1934.2" y="1080">40K</text>
<text class="ax" x="1655" y="1098">Start</text>
</g>
</svg>
